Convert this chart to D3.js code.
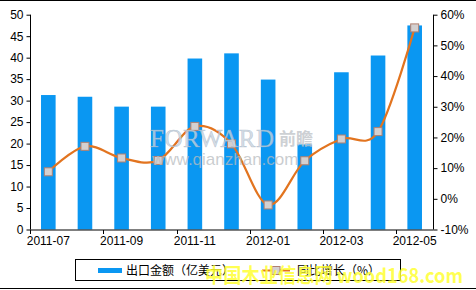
<!DOCTYPE html>
<html><head><meta charset="utf-8">
<script src="https://cdn.jsdelivr.net/npm/d3@7/dist/d3.min.js"></script>
<style>body{margin:0;background:#fff}svg{display:block}</style>
</head><body><svg id="c" width="476" height="290"></svg>
<script>
const categories = ["2011-07","2011-08","2011-09","2011-10","2011-11","2011-12","2012-01","2012-02","2012-03","2012-04","2012-05"];
const exportValues = [31.3, 30.9, 28.6, 28.6, 39.8, 41.0, 34.9, 19.8, 36.6, 40.5, 47.5];
const growthValues = [8.8, 17.1, 13.3, 12.5, 23.6, 17.9, -2.0, 12.4, 19.5, 21.9, 55.7];
const leftTicks = [0,5,10,15,20,25,30,35,40,45,50];
const rightTicks = [-10,0,10,20,30,40,50,60];
const legendLabels = ["出口金额（亿美元）","同比增长（%）"];

const svg = d3.select("#c");
const L = 30, R = 433, T = 14.7, B = 229.5;
const xc = d3.scaleBand().domain(categories).range([L, R]);
const yL = d3.scaleLinear().domain([0,50]).range([B, T]);
const yR = d3.scaleLinear().domain([-10,60]).range([B, T]);
const font = "'Liberation Sans', Arial, sans-serif";
const cjk = "'Noto Sans CJK SC', sans-serif";

// frame lines
svg.append("line").attr("x1",0).attr("x2",476).attr("y1",0.5).attr("y2",0.5).attr("stroke","#000");
svg.append("line").attr("x1",0).attr("x2",476).attr("y1",288.5).attr("y2",288.5).attr("stroke","#000");

// bars
svg.append("g").selectAll("rect").data(categories).join("rect")
  .attr("x", d => xc(d) + xc.bandwidth()/2 - 7.3)
  .attr("width", 14.6)
  .attr("y", (d,i) => yL(exportValues[i]))
  .attr("height", (d,i) => B - yL(exportValues[i]))
  .attr("fill", "#0a97f2");

// axes
const gl = svg.append("g").attr("transform",`translate(${L+0.5},0)`)
  .call(d3.axisLeft(yL).tickValues(leftTicks).tickSize(4).tickPadding(3).tickFormat(d3.format("d")));
const gr = svg.append("g").attr("transform",`translate(${R+0.5},0)`)
  .call(d3.axisRight(yR).tickValues(rightTicks).tickSize(4).tickPadding(3).tickFormat(d => d + "%"));
const bx = svg.append("g").attr("transform",`translate(0,${B+0.5})`);
bx.append("line").attr("x1",L).attr("x2",R+0.5).attr("stroke","#000");
const tickCats = categories.filter((d,i) => i % 2 === 0);
bx.selectAll(".tk").data(tickCats).join("line")
  .attr("x1", d => Math.round(xc(d)) + 0.5).attr("x2", d => Math.round(xc(d)) + 0.5)
  .attr("y1",0).attr("y2",4).attr("stroke","#000");
bx.selectAll(".lb").data(tickCats).join("text")
  .attr("x", d => xc(d) + xc.bandwidth()/2).attr("y", 15)
  .attr("text-anchor","middle").attr("font-family",font).attr("font-size",12).text(d => d);
[gl, gr].forEach(g => {
  g.selectAll("text").attr("font-family",font).attr("font-size",12).attr("fill","#000");
  g.selectAll("line, path").attr("stroke","#000");
  g.select(".domain").attr("d", `M0,${T}V${B}`);
});

// line
const line = d3.line()
  .x((d,i) => xc(categories[i]) + xc.bandwidth()/2)
  .y(d => yR(d))
  .curve(d3.curveCardinal.tension(0));
svg.append("path").datum(growthValues).attr("d", line)
  .attr("fill","none").attr("stroke","#e2741f").attr("stroke-width",2.2);
svg.append("g").selectAll("rect").data(growthValues).join("rect")
  .attr("x",(d,i) => xc(categories[i]) + xc.bandwidth()/2 - 4)
  .attr("y", d => yR(d) - 4).attr("width",8).attr("height",8)
  .attr("fill","#d4d0d0").attr("stroke","#b08070").attr("stroke-width",1);

// watermark
svg.append("text").attr("x",150).attr("y",147).attr("font-family","'Liberation Serif', serif")
  .attr("font-size",25).attr("fill","#c8d4e0").attr("fill-opacity",0.8).attr("textLength",124)
  .attr("stroke","#9aaabb").attr("stroke-width",0.5).attr("stroke-opacity",0.6).text("FORWARD");
svg.append("text").attr("x",279).attr("y",145).attr("font-family",cjk).attr("font-weight","bold")
  .attr("font-size",17).attr("fill","#c0c4c8").attr("fill-opacity",0.8).text("前瞻");
svg.append("text").attr("x",152).attr("y",165).attr("font-family",font)
  .attr("font-size",17).attr("fill","#b8bcc0").attr("fill-opacity",0.75).text("www.qianzhan.com");

// legend
const lg = svg.append("g");
lg.append("rect").attr("x",75.5).attr("y",259.5).attr("width",325).attr("height",21)
  .attr("fill","#fff").attr("stroke","#000");
lg.append("rect").attr("x",98).attr("y",268).attr("width",24).attr("height",5).attr("fill","#0a97f2");
lg.append("text").attr("x",126).attr("y",275).attr("font-family",cjk).attr("font-size",12).text(legendLabels[0]);
lg.append("line").attr("x1",262).attr("x2",290).attr("y1",270.5).attr("y2",270.5).attr("stroke","#e2741f").attr("stroke-width",2);
lg.append("rect").attr("x",272).attr("y",266.5).attr("width",8).attr("height",8)
  .attr("fill","#d4d0d0").attr("stroke","#b08070");
lg.append("text").attr("x",297).attr("y",275).attr("font-family",cjk).attr("font-size",12).text(legendLabels[1]);

// yellow watermark
svg.append("text").attr("x",205).attr("y",283).attr("font-family",cjk).attr("font-weight","bold")
  .attr("font-size",20).attr("textLength",258).attr("lengthAdjust","spacingAndGlyphs")
  .attr("fill","#ffff33").attr("fill-opacity",0.85).text("中国木业信息网 wood168.com");
</script></body></html>
